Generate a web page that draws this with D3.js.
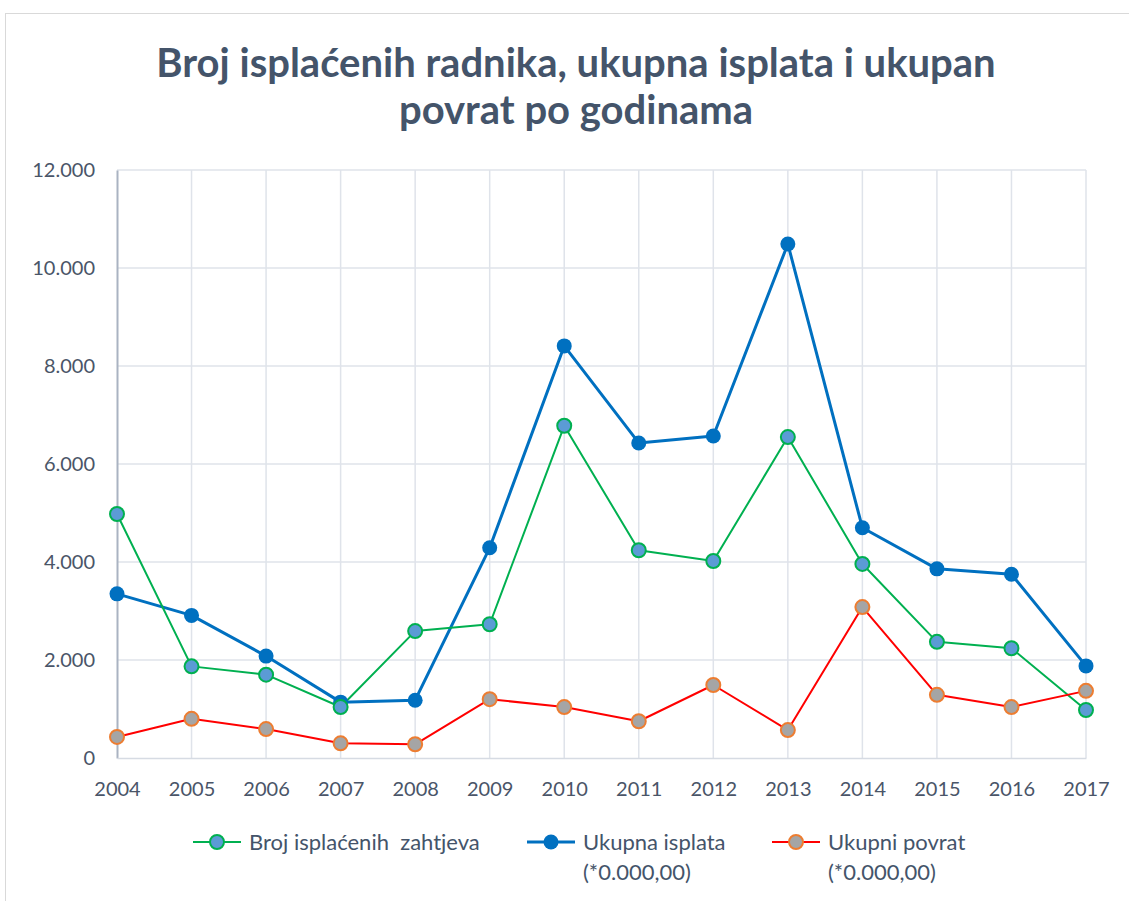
<!DOCTYPE html>
<html>
<head>
<meta charset="utf-8">
<script src="https://cdn.jsdelivr.net/npm/d3@7"></script>
<style>
  body { margin: 0; background: #fff; }
  text { font-family: Lato, "Open Sans", sans-serif; }
</style>
</head>
<body>
<div id="chart"></div>
<script>
const years = [2004, 2005, 2006, 2007, 2008, 2009, 2010, 2011, 2012, 2013, 2014, 2015, 2016, 2017];
const brojZahtjeva = [4980, 1870, 1700, 1040, 2590, 2730, 6780, 4240, 4020, 6550, 3960, 2370, 2240, 980];
const ukupnaIsplata = [3350, 2910, 2080, 1140, 1180, 4290, 8410, 6430, 6570, 10490, 4700, 3860, 3750, 1880];
const ukupniPovrat = [430, 800, 590, 300, 280, 1200, 1040, 750, 1490, 570, 3080, 1290, 1040, 1370];
const yTicks = [0, 2000, 4000, 6000, 8000, 10000, 12000];
const titleLines = ["Broj isplaćenih radnika, ukupna isplata i ukupan", "povrat po godinama"];

const W = 1129, H = 901;
const margin = {top: 170, left: 117, right: 43, bottom: 143};
const width = W - margin.left - margin.right,
  height = H - margin.top - margin.bottom;

const fmt = v => v === 0 ? "0" : d3.format(",")(v).replace(/,/g, ".");

const svg = d3.select("#chart").append("svg")
  .attr("width", W)
  .attr("height", H);

// chart frame
svg.append("rect")
  .attr("x", 5.5).attr("y", 13.5)
  .attr("width", W).attr("height", H)
  .attr("fill", "none")
  .attr("stroke", "#d9d9d9");

// title
svg.append("g").selectAll("text")
  .data(titleLines)
  .enter().append("text")
  .attr("x", 576)
  .attr("y", (d, i) => 77 + i * 47)
  .attr("text-anchor", "middle")
  .attr("font-size", 40)
  .attr("font-weight", "bold")
  .attr("fill", "#44546a")
  .text(d => d);

const g = svg.append("g")
  .attr("transform", "translate(" + margin.left + "," + margin.top + ")");

const x = d3.scalePoint().domain(years).range([0, width]);
const y = d3.scaleLinear().domain([0, 12000]).range([height, 0]);

// gridlines
g.append("g").selectAll("line.h")
  .data(yTicks.slice(1))
  .enter().append("line")
  .attr("x1", 0).attr("x2", width)
  .attr("y1", d => y(d)).attr("y2", d => y(d))
  .attr("stroke", "#dfe3ea").attr("stroke-width", 1.5);

g.append("g").selectAll("line.v")
  .data(years.slice(1))
  .enter().append("line")
  .attr("x1", d => x(d)).attr("x2", d => x(d))
  .attr("y1", 0).attr("y2", height)
  .attr("stroke", "#dfe3ea").attr("stroke-width", 1.5);

// axes
const yAxis = g.append("g")
  .call(d3.axisLeft(y).tickValues(yTicks).tickFormat(fmt).tickSize(0).tickPadding(22));
yAxis.select(".domain").attr("stroke", "#aab3c2").attr("stroke-width", 2);
yAxis.selectAll("text").attr("font-size", 20).attr("fill", "#4a5568").attr("font-family", "Lato, sans-serif");

const xAxis = g.append("g")
  .attr("transform", "translate(0," + height + ")")
  .call(d3.axisBottom(x).tickSize(0).tickPadding(24));
xAxis.select(".domain").attr("stroke", "#d6dbe3").attr("stroke-width", 1.5);
xAxis.selectAll("text").attr("font-size", 20).attr("fill", "#4a5568").attr("font-family", "Lato, sans-serif");

const series = [
  {name: ["Broj isplaćenih  zahtjeva"], values: brojZahtjeva, line: "#00b050", lw: 2, fill: "#5b9bd5", stroke: "#00b050", r: 7, lx: 193},
  {name: ["Ukupna isplata", "(*0.000,00)"], values: ukupnaIsplata, line: "#0070c0", lw: 3, fill: "#0070c0", stroke: "#0070c0", r: 7.5, lx: 527},
  {name: ["Ukupni povrat", "(*0.000,00)"], values: ukupniPovrat, line: "#ff0000", lw: 2, fill: "#a5a5a5", stroke: "#ed7d31", r: 7, lx: 772}
];

const line = d3.line()
  .x((d, i) => x(years[i]))
  .y(d => y(d));

// draw order: blue, green, red on top
[series[1], series[0], series[2]].forEach(s => {
  g.append("path")
    .datum(s.values)
    .attr("fill", "none")
    .attr("stroke", s.line)
    .attr("stroke-width", s.lw)
    .attr("stroke-linejoin", "round")
    .attr("d", line);
});
[series[1], series[0], series[2]].forEach(s => {
  g.append("g").selectAll("circle")
    .data(s.values)
    .enter().append("circle")
    .attr("cx", (d, i) => x(years[i]))
    .attr("cy", d => y(d))
    .attr("r", s.r)
    .attr("fill", s.fill)
    .attr("stroke", s.stroke)
    .attr("stroke-width", s.stroke === s.fill ? 0 : 2);
});

// legend
const legend = svg.append("g");
series.forEach(s => {
  const item = legend.append("g").attr("transform", "translate(" + s.lx + ",842)");
  item.append("line")
    .attr("x1", 0).attr("x2", 48)
    .attr("stroke", s.line).attr("stroke-width", s.lw);
  item.append("circle")
    .attr("cx", 24).attr("r", s.r)
    .attr("fill", s.fill)
    .attr("stroke", s.stroke)
    .attr("stroke-width", s.stroke === s.fill ? 0 : 2);
  item.selectAll("text")
    .data(s.name)
    .enter().append("text")
    .attr("x", 56)
    .attr("y", (d, i) => 8 + i * 30)
    .attr("font-size", 22)
    .attr("fill", "#44546a")
    .style("white-space", "pre")
    .text(d => d);
});
</script>
</body>
</html>
